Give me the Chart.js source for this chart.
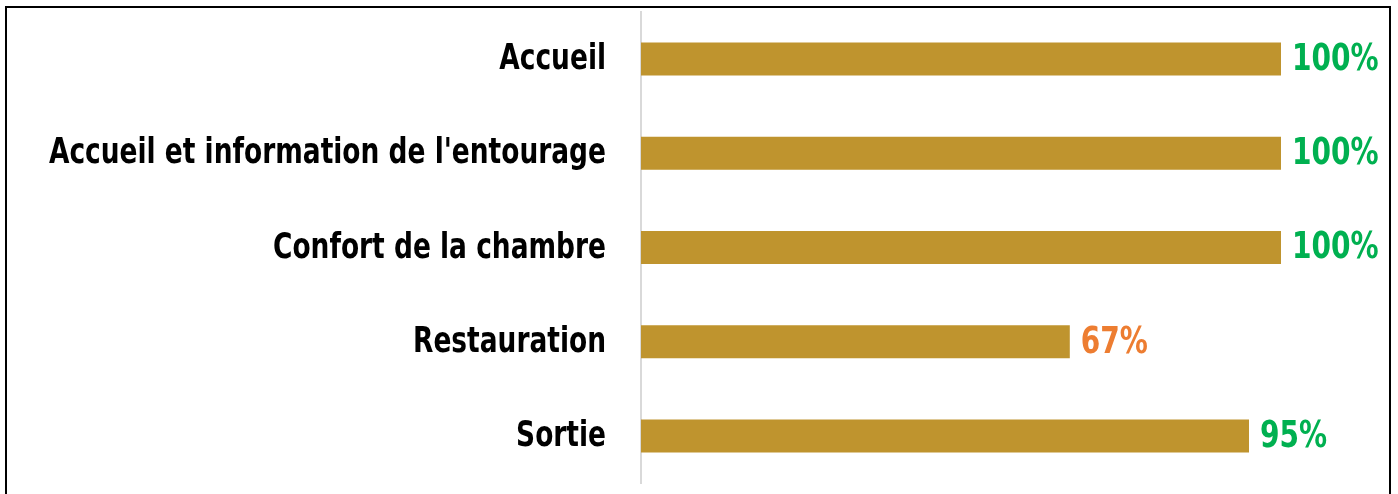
<!DOCTYPE html>
<html>
<head>
<meta charset="utf-8">
<script src="https://cdn.jsdelivr.net/npm/chart.js@4"></script>
<style>
    html, body { margin: 0; padding: 0; background: #fff; overflow: hidden; }
    #wrap { position: relative; width: 1398px; height: 494px; }
    #frame {
        position: absolute; left: 5px; top: 6px; width: 1382px; height: 500px;
        border: 2px solid #000; pointer-events: none;
    }
</style>
</head>
<body>
<div id="wrap">
    <canvas id="myChart" width="1398" height="494"></canvas>
    <div id="frame"></div>
</div>
<script>
const categories = [
    'Accueil',
    'Accueil et information de l\'entourage',
    'Confort de la chambre',
    'Restauration',
    'Sortie'
];
const satisfaction = [100, 100, 100, 67, 95];

const FONT = "'DejaVu Sans Condensed', 'Liberation Sans Narrow', sans-serif";

// draws condensed bold text (squeezed horizontally to look like the original narrow font)
function drawNarrow(ctx, text, x, y, align, squeeze) {
    ctx.save();
    ctx.translate(x, y);
    ctx.scale(squeeze, 1);
    ctx.textAlign = align;
    ctx.textBaseline = 'middle';
    ctx.fillText(text, 0, 0);
    ctx.restore();
}

// category names left of the axis + percentage at the end of each bar
const textLabels = {
    id: 'textLabels',
    afterDatasetsDraw(chart) {
        const ctx = chart.ctx;
        const yScale = chart.scales.y;
        const meta = chart.getDatasetMeta(0);

        ctx.save();
        ctx.font = 'bold 35px ' + FONT;
        ctx.fillStyle = '#000';
        categories.forEach((name, i) => {
            drawNarrow(ctx, name, chart.chartArea.left - 35, yScale.getPixelForValue(i) + 1, 'right', 0.84);
        });

        ctx.font = 'bold 38px ' + FONT;
        meta.data.forEach((bar, i) => {
            const v = satisfaction[i];
            ctx.fillStyle = v >= 80 ? '#00b050' : '#ed7d31';
            drawNarrow(ctx, v + '%', bar.x + 11, bar.y + 1, 'left', 0.82);
        });
        ctx.restore();
    }
};

const ctx = document.getElementById('myChart').getContext('2d');
new Chart(ctx, {
    type: 'bar',
    data: {
        labels: categories,
        datasets: [{
            data: satisfaction,
            backgroundColor: '#bf942e',
            borderWidth: 0,
            categoryPercentage: 1,
            barPercentage: 0.35
        }]
    },
    options: {
        indexAxis: 'y',
        responsive: false,
        animation: false,
        layout: { padding: { top: 12, bottom: 11, right: 117, left: 0 } },
        scales: {
            x: {
                display: false,
                min: 0,
                max: 100
            },
            y: {
                grid: { display: false, drawTicks: false },
                border: { display: true, color: '#d9d9d9', width: 2 },
                ticks: { display: false },
                afterFit: function (scale) {
                    scale.width = 641;
                    scale.paddingTop = 0;
                    scale.paddingBottom = 0;
                }
            }
        },
        plugins: {
            legend: { display: false },
            tooltip: { enabled: false }
        }
    },
    plugins: [textLabels]
});
</script>
</body>
</html>
